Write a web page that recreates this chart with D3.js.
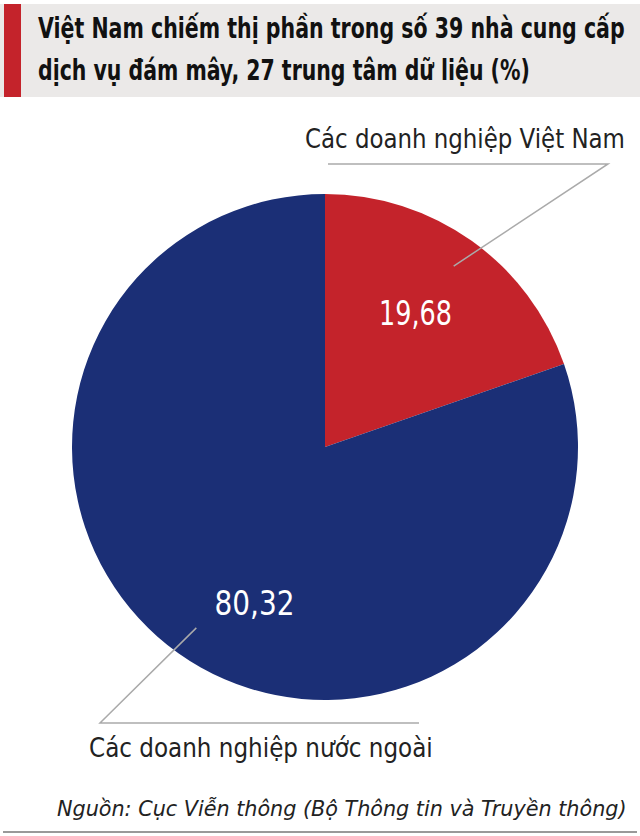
<!DOCTYPE html>
<html><head><meta charset="utf-8">
<script src="https://cdn.jsdelivr.net/npm/d3@7/dist/d3.min.js"></script>
<style>body{margin:0;background:#fff}svg{display:block}</style>
</head><body>
<script>
const titleLines = ["Việt Nam chiếm thị phần trong số 39 nhà cung cấp", "dịch vụ đám mây, 27 trung tâm dữ liệu (%)"];
const categories = ["Các doanh nghiệp Việt Nam", "Các doanh nghiệp nước ngoài"];
const values = [19.68, 80.32];
const valueLabels = ["19,68", "80,32"];
const colors = ["#c4232b", "#1b2f76"];
const source = "Nguồn: Cục Viễn thông (Bộ Thông tin và Truyền thông)";

const W = 640, H = 836;
const svg = d3.select("body").append("svg").attr("width", W).attr("height", H);
const font = "'Liberation Sans Narrow','DejaVu Sans Condensed','Roboto',sans-serif";

// place text at (x,y) (anchor: start|middle) with given font size, squeezed horizontally to target width
function place(parent, cfg) {
  const g = parent.append("g");
  const t = g.append("text").attr("x", 0).attr("y", 0)
    .attr("font-family", font).attr("font-size", cfg.size)
    .attr("font-weight", cfg.weight || "normal").attr("font-style", cfg.style || "normal")
    .attr("fill", cfg.fill).attr("text-anchor", cfg.anchor || "start")
    .text(cfg.text);
  const w = t.node().getComputedTextLength();
  const sx = cfg.width / w;
  g.attr("transform", `translate(${cfg.x},${cfg.y}) scale(${sx.toFixed(4)},1)`);
  return g;
}

// title block
svg.append("rect").attr("x", 0).attr("y", 4).attr("width", W).attr("height", 93).attr("fill", "#ebe9e8");
svg.append("rect").attr("x", 4).attr("y", 4).attr("width", 17).attr("height", 93).attr("fill", "#c4232b");
place(svg, {text: titleLines[0], x: 38, y: 38, size: 28, weight: "bold", fill: "#111", width: 587});
place(svg, {text: titleLines[1], x: 38, y: 80, size: 28, weight: "bold", fill: "#111", width: 492});

// pie
const cx = 325, cy = 447, R = 253;
const pie = d3.pie().sort(null).value(d => d)(values);
const arc = d3.arc().innerRadius(0).outerRadius(R);
const g = svg.append("g").attr("transform", `translate(${cx},${cy})`);
g.selectAll("path").data(pie).enter().append("path")
  .attr("d", arc).attr("fill", (d, i) => colors[i]);

// value labels
const lblArc = d3.arc().innerRadius(163).outerRadius(163);
const offs = [[-4, -1], [24, 23]];
const widths = [73, 80];
pie.forEach((d, i) => {
  const c = lblArc.centroid(d);
  place(g, {text: valueLabels[i], x: c[0] + offs[i][0], y: c[1] + offs[i][1] + 12,
    size: 33, fill: "#fff", anchor: "middle", width: widths[i]});
});

// leader lines
const leadArc = d3.arc().innerRadius(222).outerRadius(222);
const leaders = pie.map((d, i) => {
  const p0 = leadArc.centroid(d);
  const p0a = [p0[0] + cx, p0[1] + cy];
  if (i === 0) return [p0a, [608, 164], [328, 164]];
  return [p0a, [100, 723], [419, 723]];
});
svg.selectAll("path.lead").data(leaders).enter().append("path")
  .attr("d", d => d3.line()(d)).attr("fill", "none")
  .attr("stroke", "#aaa").attr("stroke-width", 1.5);

// category labels
place(svg, {text: categories[0], x: 305, y: 148, size: 27, fill: "#222", width: 320});
place(svg, {text: categories[1], x: 89, y: 757, size: 27, fill: "#222", width: 344});

// source
place(svg, {text: source, x: 57, y: 816, size: 21, style: "italic", fill: "#222", width: 570});
svg.append("line").attr("x1", 3).attr("x2", 637).attr("y1", 832).attr("y2", 832)
  .attr("stroke", "#999").attr("stroke-width", 2);
</script>
</body></html>
